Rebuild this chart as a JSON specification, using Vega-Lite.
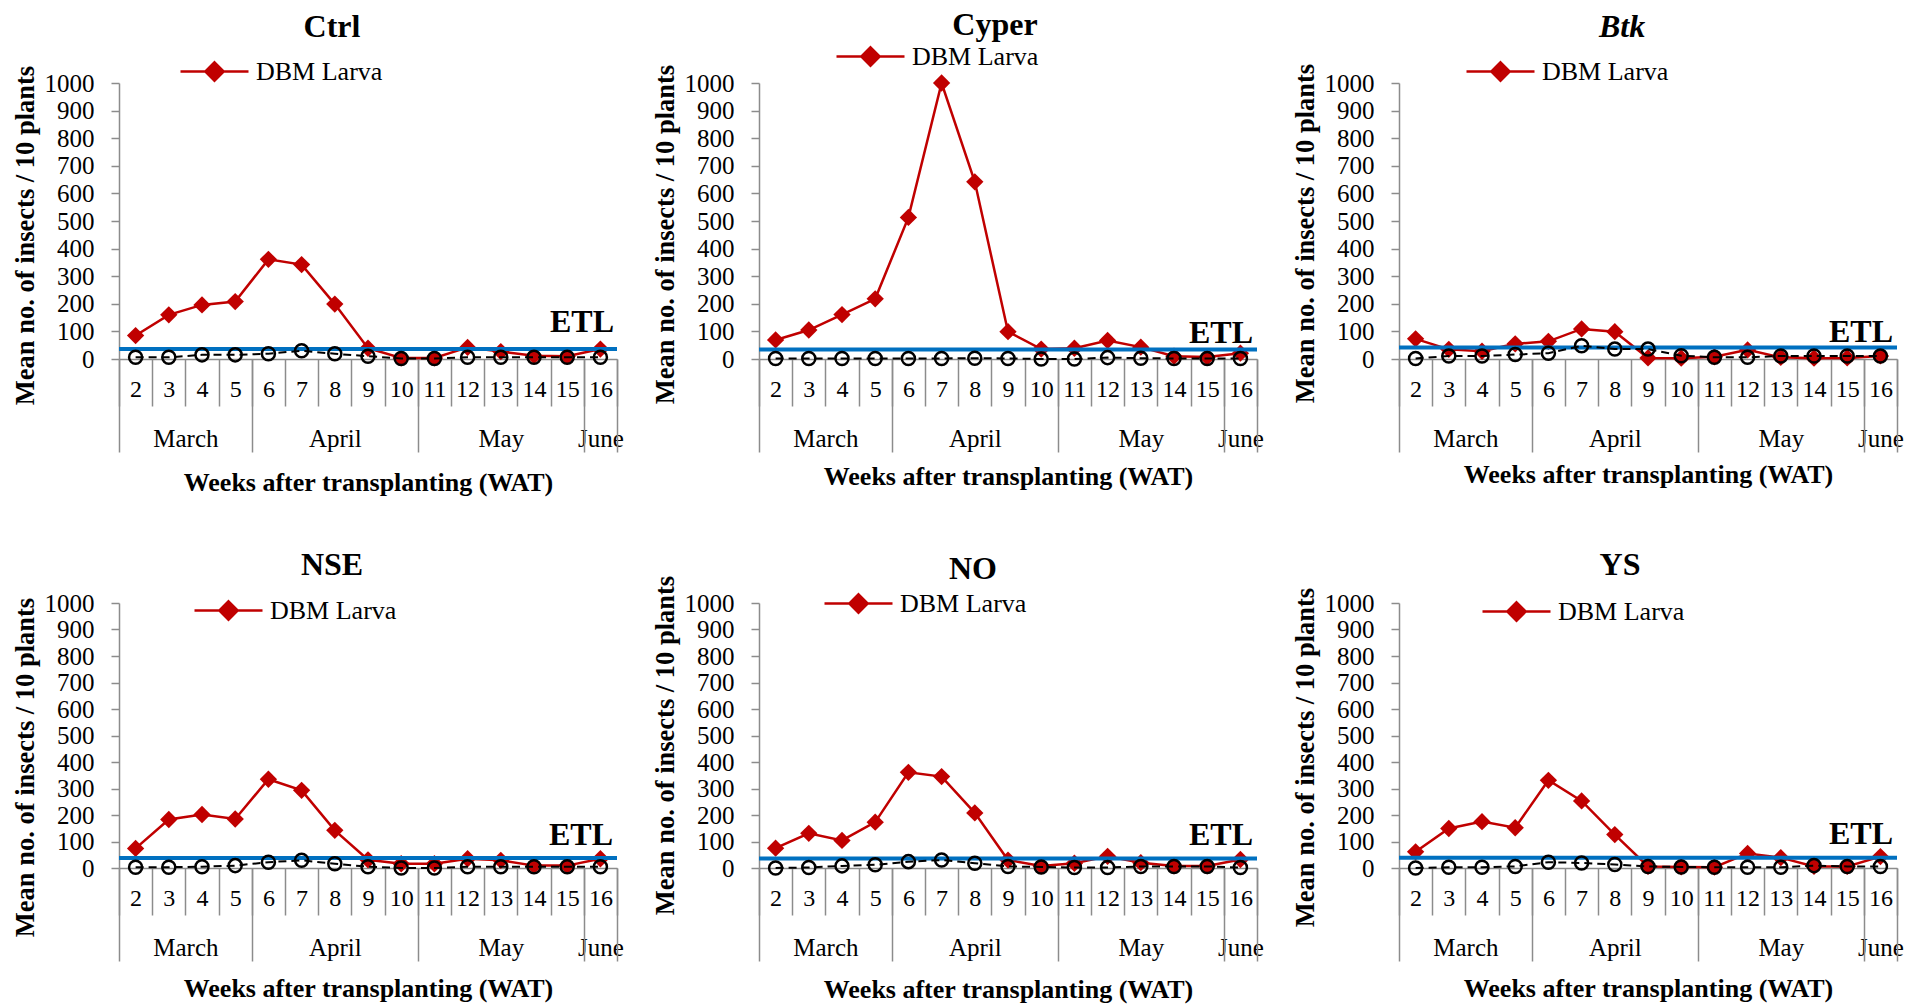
{
"$schema": "https://vega.github.io/schema/vega-lite/v6.json",
"background": "white",
"padding": {"left": 11, "top": 9, "right": 2, "bottom": 2},
"datasets": {
"d": [
{"t":"Ctrl","wk":2,"dbm":85,"ne":6},{"t":"Ctrl","wk":3,"dbm":160,"ne":6},{"t":"Ctrl","wk":4,"dbm":196,"ne":15},{"t":"Ctrl","wk":5,"dbm":208,"ne":15},{"t":"Ctrl","wk":6,"dbm":361,"ne":19},{"t":"Ctrl","wk":7,"dbm":342,"ne":30},{"t":"Ctrl","wk":8,"dbm":199,"ne":19},{"t":"Ctrl","wk":9,"dbm":39,"ne":10},{"t":"Ctrl","wk":10,"dbm":4,"ne":2},{"t":"Ctrl","wk":11,"dbm":4,"ne":2},{"t":"Ctrl","wk":12,"dbm":42,"ne":6},{"t":"Ctrl","wk":13,"dbm":27,"ne":6},{"t":"Ctrl","wk":14,"dbm":12,"ne":6},{"t":"Ctrl","wk":15,"dbm":10,"ne":6},{"t":"Ctrl","wk":16,"dbm":36,"ne":6},
{"t":"Cyper","wk":2,"dbm":69,"ne":2},{"t":"Cyper","wk":3,"dbm":105,"ne":2},{"t":"Cyper","wk":4,"dbm":161,"ne":2},{"t":"Cyper","wk":5,"dbm":218,"ne":2},{"t":"Cyper","wk":6,"dbm":513,"ne":2},{"t":"Cyper","wk":7,"dbm":1000,"ne":2},{"t":"Cyper","wk":8,"dbm":642,"ne":3},{"t":"Cyper","wk":9,"dbm":99,"ne":2},{"t":"Cyper","wk":10,"dbm":36,"ne":0},{"t":"Cyper","wk":11,"dbm":39,"ne":0},{"t":"Cyper","wk":12,"dbm":67,"ne":5},{"t":"Cyper","wk":13,"dbm":43,"ne":3},{"t":"Cyper","wk":14,"dbm":10,"ne":2},{"t":"Cyper","wk":15,"dbm":7,"ne":2},{"t":"Cyper","wk":16,"dbm":21,"ne":2},
{"t":"Btk","wk":2,"dbm":73,"ne":2},{"t":"Btk","wk":3,"dbm":35,"ne":11},{"t":"Btk","wk":4,"dbm":28,"ne":11},{"t":"Btk","wk":5,"dbm":55,"ne":16},{"t":"Btk","wk":6,"dbm":64,"ne":21},{"t":"Btk","wk":7,"dbm":109,"ne":48},{"t":"Btk","wk":8,"dbm":99,"ne":36},{"t":"Btk","wk":9,"dbm":4,"ne":36},{"t":"Btk","wk":10,"dbm":3,"ne":12},{"t":"Btk","wk":11,"dbm":8,"ne":6},{"t":"Btk","wk":12,"dbm":33,"ne":6},{"t":"Btk","wk":13,"dbm":6,"ne":11},{"t":"Btk","wk":14,"dbm":3,"ne":11},{"t":"Btk","wk":15,"dbm":4,"ne":11},{"t":"Btk","wk":16,"dbm":11,"ne":11},
{"t":"NSE","wk":2,"dbm":74,"ne":3},{"t":"NSE","wk":3,"dbm":183,"ne":3},{"t":"NSE","wk":4,"dbm":202,"ne":5},{"t":"NSE","wk":5,"dbm":185,"ne":9},{"t":"NSE","wk":6,"dbm":335,"ne":22},{"t":"NSE","wk":7,"dbm":293,"ne":29},{"t":"NSE","wk":8,"dbm":142,"ne":16},{"t":"NSE","wk":9,"dbm":31,"ne":5},{"t":"NSE","wk":10,"dbm":16,"ne":0},{"t":"NSE","wk":11,"dbm":16,"ne":0},{"t":"NSE","wk":12,"dbm":35,"ne":5},{"t":"NSE","wk":13,"dbm":29,"ne":5},{"t":"NSE","wk":14,"dbm":9,"ne":5},{"t":"NSE","wk":15,"dbm":9,"ne":5},{"t":"NSE","wk":16,"dbm":35,"ne":5},
{"t":"NO","wk":2,"dbm":75,"ne":0},{"t":"NO","wk":3,"dbm":131,"ne":2},{"t":"NO","wk":4,"dbm":104,"ne":8},{"t":"NO","wk":5,"dbm":173,"ne":12},{"t":"NO","wk":6,"dbm":361,"ne":24},{"t":"NO","wk":7,"dbm":345,"ne":30},{"t":"NO","wk":8,"dbm":208,"ne":18},{"t":"NO","wk":9,"dbm":30,"ne":6},{"t":"NO","wk":10,"dbm":8,"ne":4},{"t":"NO","wk":11,"dbm":18,"ne":2},{"t":"NO","wk":12,"dbm":44,"ne":2},{"t":"NO","wk":13,"dbm":20,"ne":6},{"t":"NO","wk":14,"dbm":8,"ne":6},{"t":"NO","wk":15,"dbm":8,"ne":6},{"t":"NO","wk":16,"dbm":32,"ne":2},
{"t":"YS","wk":2,"dbm":61,"ne":0},{"t":"YS","wk":3,"dbm":149,"ne":3},{"t":"YS","wk":4,"dbm":175,"ne":3},{"t":"YS","wk":5,"dbm":152,"ne":6},{"t":"YS","wk":6,"dbm":331,"ne":22},{"t":"YS","wk":7,"dbm":253,"ne":19},{"t":"YS","wk":8,"dbm":126,"ne":13},{"t":"YS","wk":9,"dbm":6,"ne":6},{"t":"YS","wk":10,"dbm":4,"ne":4},{"t":"YS","wk":11,"dbm":3,"ne":3},{"t":"YS","wk":12,"dbm":55,"ne":3},{"t":"YS","wk":13,"dbm":39,"ne":3},{"t":"YS","wk":14,"dbm":6,"ne":9},{"t":"YS","wk":15,"dbm":6,"ne":6},{"t":"YS","wk":16,"dbm":43,"ne":6}
],
"etl": [
{"t":"Ctrl","etl":36},{"t":"Cyper","etl":34},{"t":"Btk","etl":42},{"t":"NSE","etl":38},{"t":"NO","etl":36},{"t":"YS","etl":39}
]
},
"columns": 3,
"spacing": {"row": 244, "column": 142},
"bounds": "flush",
"resolve": {"scale": {"color": "independent"}},
"concat": [
{
"width": 498, "height": 276,
"title": {"text": "Ctrl", "dx": -36, "offset": -8},
"data": {"name": "d"},
"transform": [{"filter": "datum.t == 'Ctrl'"}],
"resolve": {"axis": {"x": "independent"}},
"layer": [
{"mark": {"type": "line", "color": "#C00000", "strokeWidth": 2.5},
 "encoding": {
  "x": {"field": "wk", "type": "quantitative", "scale": {"domain": [1.5, 16.5], "nice": false, "zero": false},
        "axis": {"orient": "bottom", "values": [2,3,4,5,6,7,8,9,10,11,12,13,14,15,16], "ticks": false, "tickSize": 0, "domain": false, "labelPadding": 18, "labelFontSize": 24, "labelFlush": false, "labelOverlap": false, "labelBound": false, "title": null, "format": "d"}},
  "y": {"field": "dbm", "type": "quantitative", "scale": {"domain": [0, 1000], "nice": false}, "title": "Mean no. of insects / 10 plants", "axis": {"titleY": 152}}}},
{"mark": {"type": "point", "shape": "diamond", "filled": true, "size": 300, "opacity": 1},
 "encoding": {
  "x": {"field": "wk", "type": "quantitative", "axis": {"orient": "bottom", "values": [1.5,2.5,3.5,4.5,5.5,6.5,7.5,8.5,9.5,10.5,11.5,12.5,13.5,14.5,15.5,16.5], "labels": false, "tickSize": 47, "domain": true, "title": null}},
  "y": {"field": "dbm", "type": "quantitative", "title": "Mean no. of insects / 10 plants"},
  "color": {"datum": "DBM Larva", "type": "nominal", "scale": {"range": ["#C00000"]}, "legend": {"title": null, "legendX": 60, "legendY": -47, "encode": {"symbols": {"update": {"stroke": {"value": "#C00000"}, "strokeWidth": {"value": 2.5}, "fill": {"value": "#C00000"}}}}}}}},
{"data": {"name": "etl"}, "transform": [{"filter": "datum.t == 'Ctrl'"}],
 "mark": {"type": "rule", "color": "#0070C0", "strokeWidth": 4},
 "encoding": {"y": {"field": "etl", "type": "quantitative", "title": "Mean no. of insects / 10 plants"}}},
{"mark": {"type": "line", "color": "black", "strokeWidth": 2, "strokeDash": [8, 5]},
 "encoding": {
  "x": {"field": "wk", "type": "quantitative", "axis": {"orient": "bottom", "values": [3.5, 8, 13, 16], "labelExpr": "datum.value == 3.5 ? 'March' : datum.value == 8 ? 'April' : datum.value == 13 ? 'May' : 'June'", "ticks": false, "tickSize": 0, "domain": false, "labelPadding": 67, "labelFontSize": 25, "labelFlush": false, "labelOverlap": false, "labelBound": false, "title": null}},
  "y": {"field": "ne", "type": "quantitative", "title": "Mean no. of insects / 10 plants"}}},
{"mark": {"type": "point", "shape": "circle", "filled": false, "color": "black", "strokeWidth": 2.5, "size": 170, "opacity": 1},
 "encoding": {
  "x": {"field": "wk", "type": "quantitative", "axis": {"orient": "bottom", "values": [1.5, 5.5, 10.5, 15.5, 16.5], "labels": false, "tickSize": 93, "domain": false, "title": "Weeks after transplanting (WAT)", "titlePadding": 17}},
  "y": {"field": "ne", "type": "quantitative", "title": "Mean no. of insects / 10 plants"}}},
{"data": {"name": "etl"}, "transform": [{"filter": "datum.t == 'Ctrl'"}],
 "mark": {"type": "text", "text": "ETL", "font": "Liberation Serif", "fontWeight": "bold", "fontSize": 32, "align": "right", "baseline": "alphabetic", "dy": -17, "dx": -3},
 "encoding": {"x": {"datum": 16.5, "type": "quantitative", "axis": null}, "y": {"field": "etl", "type": "quantitative", "title": "Mean no. of insects / 10 plants"}}}
]
},
{
"width": 498, "height": 276,
"title": {"text": "Cyper", "dx": -13, "offset": -21},
"data": {"name": "d"},
"transform": [{"filter": "datum.t == 'Cyper'"}],
"resolve": {"axis": {"x": "independent"}},
"layer": [
{"mark": {"type": "line", "color": "#C00000", "strokeWidth": 2.5},
 "encoding": {
  "x": {"field": "wk", "type": "quantitative", "scale": {"domain": [1.5, 16.5], "nice": false, "zero": false},
        "axis": {"orient": "bottom", "values": [2,3,4,5,6,7,8,9,10,11,12,13,14,15,16], "ticks": false, "tickSize": 0, "domain": false, "labelPadding": 18, "labelFontSize": 24, "labelFlush": false, "labelOverlap": false, "labelBound": false, "title": null, "format": "d"}},
  "y": {"field": "dbm", "type": "quantitative", "scale": {"domain": [0, 1000], "nice": false}, "title": "Mean no. of insects / 10 plants", "axis": {"titleY": 151}}}},
{"mark": {"type": "point", "shape": "diamond", "filled": true, "size": 300, "opacity": 1},
 "encoding": {
  "x": {"field": "wk", "type": "quantitative", "axis": {"orient": "bottom", "values": [1.5,2.5,3.5,4.5,5.5,6.5,7.5,8.5,9.5,10.5,11.5,12.5,13.5,14.5,15.5,16.5], "labels": false, "tickSize": 47, "domain": true, "title": null}},
  "y": {"field": "dbm", "type": "quantitative", "title": "Mean no. of insects / 10 plants"},
  "color": {"datum": "DBM Larva", "type": "nominal", "scale": {"range": ["#C00000"]}, "legend": {"title": null, "legendX": 76, "legendY": -62, "encode": {"symbols": {"update": {"stroke": {"value": "#C00000"}, "strokeWidth": {"value": 2.5}, "fill": {"value": "#C00000"}}}}}}}},
{"data": {"name": "etl"}, "transform": [{"filter": "datum.t == 'Cyper'"}],
 "mark": {"type": "rule", "color": "#0070C0", "strokeWidth": 4},
 "encoding": {"y": {"field": "etl", "type": "quantitative", "title": "Mean no. of insects / 10 plants"}}},
{"mark": {"type": "line", "color": "black", "strokeWidth": 2, "strokeDash": [8, 5]},
 "encoding": {
  "x": {"field": "wk", "type": "quantitative", "axis": {"orient": "bottom", "values": [3.5, 8, 13, 16], "labelExpr": "datum.value == 3.5 ? 'March' : datum.value == 8 ? 'April' : datum.value == 13 ? 'May' : 'June'", "ticks": false, "tickSize": 0, "domain": false, "labelPadding": 67, "labelFontSize": 25, "labelFlush": false, "labelOverlap": false, "labelBound": false, "title": null}},
  "y": {"field": "ne", "type": "quantitative", "title": "Mean no. of insects / 10 plants"}}},
{"mark": {"type": "point", "shape": "circle", "filled": false, "color": "black", "strokeWidth": 2.5, "size": 170, "opacity": 1},
 "encoding": {
  "x": {"field": "wk", "type": "quantitative", "axis": {"orient": "bottom", "values": [1.5, 5.5, 10.5, 15.5, 16.5], "labels": false, "tickSize": 93, "domain": false, "title": "Weeks after transplanting (WAT)", "titlePadding": 11}},
  "y": {"field": "ne", "type": "quantitative", "title": "Mean no. of insects / 10 plants"}}},
{"data": {"name": "etl"}, "transform": [{"filter": "datum.t == 'Cyper'"}],
 "mark": {"type": "text", "text": "ETL", "font": "Liberation Serif", "fontWeight": "bold", "fontSize": 32, "align": "right", "baseline": "alphabetic", "dy": -7, "dx": -4},
 "encoding": {"x": {"datum": 16.5, "type": "quantitative", "axis": null}, "y": {"field": "etl", "type": "quantitative", "title": "Mean no. of insects / 10 plants"}}}
]
},
{
"width": 498, "height": 276,
"title": {"text": "Btk", "dx": -26, "offset": -8, "fontStyle": "italic"},
"data": {"name": "d"},
"transform": [{"filter": "datum.t == 'Btk'"}],
"resolve": {"axis": {"x": "independent"}},
"layer": [
{"mark": {"type": "line", "color": "#C00000", "strokeWidth": 2.5},
 "encoding": {
  "x": {"field": "wk", "type": "quantitative", "scale": {"domain": [1.5, 16.5], "nice": false, "zero": false},
        "axis": {"orient": "bottom", "values": [2,3,4,5,6,7,8,9,10,11,12,13,14,15,16], "ticks": false, "tickSize": 0, "domain": false, "labelPadding": 18, "labelFontSize": 24, "labelFlush": false, "labelOverlap": false, "labelBound": false, "title": null, "format": "d"}},
  "y": {"field": "dbm", "type": "quantitative", "scale": {"domain": [0, 1000], "nice": false}, "title": "Mean no. of insects / 10 plants", "axis": {"titleY": 150}}}},
{"mark": {"type": "point", "shape": "diamond", "filled": true, "size": 300, "opacity": 1},
 "encoding": {
  "x": {"field": "wk", "type": "quantitative", "axis": {"orient": "bottom", "values": [1.5,2.5,3.5,4.5,5.5,6.5,7.5,8.5,9.5,10.5,11.5,12.5,13.5,14.5,15.5,16.5], "labels": false, "tickSize": 47, "domain": true, "title": null}},
  "y": {"field": "dbm", "type": "quantitative", "title": "Mean no. of insects / 10 plants"},
  "color": {"datum": "DBM Larva", "type": "nominal", "scale": {"range": ["#C00000"]}, "legend": {"title": null, "legendX": 66, "legendY": -47, "encode": {"symbols": {"update": {"stroke": {"value": "#C00000"}, "strokeWidth": {"value": 2.5}, "fill": {"value": "#C00000"}}}}}}}},
{"data": {"name": "etl"}, "transform": [{"filter": "datum.t == 'Btk'"}],
 "mark": {"type": "rule", "color": "#0070C0", "strokeWidth": 4},
 "encoding": {"y": {"field": "etl", "type": "quantitative", "title": "Mean no. of insects / 10 plants"}}},
{"mark": {"type": "line", "color": "black", "strokeWidth": 2, "strokeDash": [8, 5]},
 "encoding": {
  "x": {"field": "wk", "type": "quantitative", "axis": {"orient": "bottom", "values": [3.5, 8, 13, 16], "labelExpr": "datum.value == 3.5 ? 'March' : datum.value == 8 ? 'April' : datum.value == 13 ? 'May' : 'June'", "ticks": false, "tickSize": 0, "domain": false, "labelPadding": 67, "labelFontSize": 25, "labelFlush": false, "labelOverlap": false, "labelBound": false, "title": null}},
  "y": {"field": "ne", "type": "quantitative", "title": "Mean no. of insects / 10 plants"}}},
{"mark": {"type": "point", "shape": "circle", "filled": false, "color": "black", "strokeWidth": 2.5, "size": 170, "opacity": 1},
 "encoding": {
  "x": {"field": "wk", "type": "quantitative", "axis": {"orient": "bottom", "values": [1.5, 5.5, 10.5, 15.5, 16.5], "labels": false, "tickSize": 93, "domain": false, "title": "Weeks after transplanting (WAT)", "titlePadding": 9}},
  "y": {"field": "ne", "type": "quantitative", "title": "Mean no. of insects / 10 plants"}}},
{"data": {"name": "etl"}, "transform": [{"filter": "datum.t == 'Btk'"}],
 "mark": {"type": "text", "text": "ETL", "font": "Liberation Serif", "fontWeight": "bold", "fontSize": 32, "align": "right", "baseline": "alphabetic", "dy": -5, "dx": -4},
 "encoding": {"x": {"datum": 16.5, "type": "quantitative", "axis": null}, "y": {"field": "etl", "type": "quantitative", "title": "Mean no. of insects / 10 plants"}}}
]
},
{
"width": 498, "height": 265,
"title": {"text": "NSE", "dx": -36, "offset": -7},
"data": {"name": "d"},
"transform": [{"filter": "datum.t == 'NSE'"}],
"resolve": {"axis": {"x": "independent"}},
"layer": [
{"mark": {"type": "line", "color": "#C00000", "strokeWidth": 2.5},
 "encoding": {
  "x": {"field": "wk", "type": "quantitative", "scale": {"domain": [1.5, 16.5], "nice": false, "zero": false},
        "axis": {"orient": "bottom", "values": [2,3,4,5,6,7,8,9,10,11,12,13,14,15,16], "ticks": false, "tickSize": 0, "domain": false, "labelPadding": 18, "labelFontSize": 24, "labelFlush": false, "labelOverlap": false, "labelBound": false, "title": null, "format": "d"}},
  "y": {"field": "dbm", "type": "quantitative", "scale": {"domain": [0, 1000], "nice": false}, "title": "Mean no. of insects / 10 plants", "axis": {"titleY": 164}}}},
{"mark": {"type": "point", "shape": "diamond", "filled": true, "size": 300, "opacity": 1},
 "encoding": {
  "x": {"field": "wk", "type": "quantitative", "axis": {"orient": "bottom", "values": [1.5,2.5,3.5,4.5,5.5,6.5,7.5,8.5,9.5,10.5,11.5,12.5,13.5,14.5,15.5,16.5], "labels": false, "tickSize": 47, "domain": true, "title": null}},
  "y": {"field": "dbm", "type": "quantitative", "title": "Mean no. of insects / 10 plants"},
  "color": {"datum": "DBM Larva", "type": "nominal", "scale": {"range": ["#C00000"]}, "legend": {"title": null, "legendX": 74, "legendY": -28, "encode": {"symbols": {"update": {"stroke": {"value": "#C00000"}, "strokeWidth": {"value": 2.5}, "fill": {"value": "#C00000"}}}}}}}},
{"data": {"name": "etl"}, "transform": [{"filter": "datum.t == 'NSE'"}],
 "mark": {"type": "rule", "color": "#0070C0", "strokeWidth": 4},
 "encoding": {"y": {"field": "etl", "type": "quantitative", "title": "Mean no. of insects / 10 plants"}}},
{"mark": {"type": "line", "color": "black", "strokeWidth": 2, "strokeDash": [8, 5]},
 "encoding": {
  "x": {"field": "wk", "type": "quantitative", "axis": {"orient": "bottom", "values": [3.5, 8, 13, 16], "labelExpr": "datum.value == 3.5 ? 'March' : datum.value == 8 ? 'April' : datum.value == 13 ? 'May' : 'June'", "ticks": false, "tickSize": 0, "domain": false, "labelPadding": 67, "labelFontSize": 25, "labelFlush": false, "labelOverlap": false, "labelBound": false, "title": null}},
  "y": {"field": "ne", "type": "quantitative", "title": "Mean no. of insects / 10 plants"}}},
{"mark": {"type": "point", "shape": "circle", "filled": false, "color": "black", "strokeWidth": 2.5, "size": 170, "opacity": 1},
 "encoding": {
  "x": {"field": "wk", "type": "quantitative", "axis": {"orient": "bottom", "values": [1.5, 5.5, 10.5, 15.5, 16.5], "labels": false, "tickSize": 93, "domain": false, "title": "Weeks after transplanting (WAT)", "titlePadding": 14}},
  "y": {"field": "ne", "type": "quantitative", "title": "Mean no. of insects / 10 plants"}}},
{"data": {"name": "etl"}, "transform": [{"filter": "datum.t == 'NSE'"}],
 "mark": {"type": "text", "text": "ETL", "font": "Liberation Serif", "fontWeight": "bold", "fontSize": 32, "align": "right", "baseline": "alphabetic", "dy": -13, "dx": -4},
 "encoding": {"x": {"datum": 16.5, "type": "quantitative", "axis": null}, "y": {"field": "etl", "type": "quantitative", "title": "Mean no. of insects / 10 plants"}}}
]
},
{
"width": 498, "height": 265,
"title": {"text": "NO", "dx": -35, "offset": -18},
"data": {"name": "d"},
"transform": [{"filter": "datum.t == 'NO'"}],
"resolve": {"axis": {"x": "independent"}},
"layer": [
{"mark": {"type": "line", "color": "#C00000", "strokeWidth": 2.5},
 "encoding": {
  "x": {"field": "wk", "type": "quantitative", "scale": {"domain": [1.5, 16.5], "nice": false, "zero": false},
        "axis": {"orient": "bottom", "values": [2,3,4,5,6,7,8,9,10,11,12,13,14,15,16], "ticks": false, "tickSize": 0, "domain": false, "labelPadding": 18, "labelFontSize": 24, "labelFlush": false, "labelOverlap": false, "labelBound": false, "title": null, "format": "d"}},
  "y": {"field": "dbm", "type": "quantitative", "scale": {"domain": [0, 1000], "nice": false}, "title": "Mean no. of insects / 10 plants", "axis": {"titleY": 142}}}},
{"mark": {"type": "point", "shape": "diamond", "filled": true, "size": 300, "opacity": 1},
 "encoding": {
  "x": {"field": "wk", "type": "quantitative", "axis": {"orient": "bottom", "values": [1.5,2.5,3.5,4.5,5.5,6.5,7.5,8.5,9.5,10.5,11.5,12.5,13.5,14.5,15.5,16.5], "labels": false, "tickSize": 47, "domain": true, "title": null}},
  "y": {"field": "dbm", "type": "quantitative", "title": "Mean no. of insects / 10 plants"},
  "color": {"datum": "DBM Larva", "type": "nominal", "scale": {"range": ["#C00000"]}, "legend": {"title": null, "legendX": 64, "legendY": -35, "encode": {"symbols": {"update": {"stroke": {"value": "#C00000"}, "strokeWidth": {"value": 2.5}, "fill": {"value": "#C00000"}}}}}}}},
{"data": {"name": "etl"}, "transform": [{"filter": "datum.t == 'NO'"}],
 "mark": {"type": "rule", "color": "#0070C0", "strokeWidth": 4},
 "encoding": {"y": {"field": "etl", "type": "quantitative", "title": "Mean no. of insects / 10 plants"}}},
{"mark": {"type": "line", "color": "black", "strokeWidth": 2, "strokeDash": [8, 5]},
 "encoding": {
  "x": {"field": "wk", "type": "quantitative", "axis": {"orient": "bottom", "values": [3.5, 8, 13, 16], "labelExpr": "datum.value == 3.5 ? 'March' : datum.value == 8 ? 'April' : datum.value == 13 ? 'May' : 'June'", "ticks": false, "tickSize": 0, "domain": false, "labelPadding": 67, "labelFontSize": 25, "labelFlush": false, "labelOverlap": false, "labelBound": false, "title": null}},
  "y": {"field": "ne", "type": "quantitative", "title": "Mean no. of insects / 10 plants"}}},
{"mark": {"type": "point", "shape": "circle", "filled": false, "color": "black", "strokeWidth": 2.5, "size": 170, "opacity": 1},
 "encoding": {
  "x": {"field": "wk", "type": "quantitative", "axis": {"orient": "bottom", "values": [1.5, 5.5, 10.5, 15.5, 16.5], "labels": false, "tickSize": 93, "domain": false, "title": "Weeks after transplanting (WAT)", "titlePadding": 15}},
  "y": {"field": "ne", "type": "quantitative", "title": "Mean no. of insects / 10 plants"}}},
{"data": {"name": "etl"}, "transform": [{"filter": "datum.t == 'NO'"}],
 "mark": {"type": "text", "text": "ETL", "font": "Liberation Serif", "fontWeight": "bold", "fontSize": 32, "align": "right", "baseline": "alphabetic", "dy": -13, "dx": -4},
 "encoding": {"x": {"datum": 16.5, "type": "quantitative", "axis": null}, "y": {"field": "etl", "type": "quantitative", "title": "Mean no. of insects / 10 plants"}}}
]
},
{
"width": 498, "height": 265,
"title": {"text": "YS", "dx": -28, "offset": -6},
"data": {"name": "d"},
"transform": [{"filter": "datum.t == 'YS'"}],
"resolve": {"axis": {"x": "independent"}},
"layer": [
{"mark": {"type": "line", "color": "#C00000", "strokeWidth": 2.5},
 "encoding": {
  "x": {"field": "wk", "type": "quantitative", "scale": {"domain": [1.5, 16.5], "nice": false, "zero": false},
        "axis": {"orient": "bottom", "values": [2,3,4,5,6,7,8,9,10,11,12,13,14,15,16], "ticks": false, "tickSize": 0, "domain": false, "labelPadding": 18, "labelFontSize": 24, "labelFlush": false, "labelOverlap": false, "labelBound": false, "title": null, "format": "d"}},
  "y": {"field": "dbm", "type": "quantitative", "scale": {"domain": [0, 1000], "nice": false}, "title": "Mean no. of insects / 10 plants", "axis": {"titleY": 154}}}},
{"mark": {"type": "point", "shape": "diamond", "filled": true, "size": 300, "opacity": 1},
 "encoding": {
  "x": {"field": "wk", "type": "quantitative", "axis": {"orient": "bottom", "values": [1.5,2.5,3.5,4.5,5.5,6.5,7.5,8.5,9.5,10.5,11.5,12.5,13.5,14.5,15.5,16.5], "labels": false, "tickSize": 47, "domain": true, "title": null}},
  "y": {"field": "dbm", "type": "quantitative", "title": "Mean no. of insects / 10 plants"},
  "color": {"datum": "DBM Larva", "type": "nominal", "scale": {"range": ["#C00000"]}, "legend": {"title": null, "legendX": 82, "legendY": -27, "encode": {"symbols": {"update": {"stroke": {"value": "#C00000"}, "strokeWidth": {"value": 2.5}, "fill": {"value": "#C00000"}}}}}}}},
{"data": {"name": "etl"}, "transform": [{"filter": "datum.t == 'YS'"}],
 "mark": {"type": "rule", "color": "#0070C0", "strokeWidth": 4},
 "encoding": {"y": {"field": "etl", "type": "quantitative", "title": "Mean no. of insects / 10 plants"}}},
{"mark": {"type": "line", "color": "black", "strokeWidth": 2, "strokeDash": [8, 5]},
 "encoding": {
  "x": {"field": "wk", "type": "quantitative", "axis": {"orient": "bottom", "values": [3.5, 8, 13, 16], "labelExpr": "datum.value == 3.5 ? 'March' : datum.value == 8 ? 'April' : datum.value == 13 ? 'May' : 'June'", "ticks": false, "tickSize": 0, "domain": false, "labelPadding": 67, "labelFontSize": 25, "labelFlush": false, "labelOverlap": false, "labelBound": false, "title": null}},
  "y": {"field": "ne", "type": "quantitative", "title": "Mean no. of insects / 10 plants"}}},
{"mark": {"type": "point", "shape": "circle", "filled": false, "color": "black", "strokeWidth": 2.5, "size": 170, "opacity": 1},
 "encoding": {
  "x": {"field": "wk", "type": "quantitative", "axis": {"orient": "bottom", "values": [1.5, 5.5, 10.5, 15.5, 16.5], "labels": false, "tickSize": 93, "domain": false, "title": "Weeks after transplanting (WAT)", "titlePadding": 14}},
  "y": {"field": "ne", "type": "quantitative", "title": "Mean no. of insects / 10 plants"}}},
{"data": {"name": "etl"}, "transform": [{"filter": "datum.t == 'YS'"}],
 "mark": {"type": "text", "text": "ETL", "font": "Liberation Serif", "fontWeight": "bold", "fontSize": 32, "align": "right", "baseline": "alphabetic", "dy": -14, "dx": -4},
 "encoding": {"x": {"datum": 16.5, "type": "quantitative", "axis": null}, "y": {"field": "etl", "type": "quantitative", "title": "Mean no. of insects / 10 plants"}}}
]
}
],
"config": {
 "view": {"stroke": null},
 "font": "Liberation Serif",
 "axis": {"labelFont": "Liberation Serif", "titleFont": "Liberation Serif", "labelColor": "black", "titleColor": "black", "domainColor": "#8c8c8c", "tickColor": "#8c8c8c", "grid": false, "domainWidth": 1.5, "tickWidth": 1.5, "titleFontWeight": "bold", "titleFontSize": 26},
 "axisY": {"tickCount": 10, "format": "d", "tickSize": 8, "labelPadding": 17, "labelFontSize": 25, "titleFontSize": 26.5, "titlePadding": 5},
 "title": {"font": "Liberation Serif", "fontSize": 32, "fontWeight": "bold", "color": "black", "anchor": "middle", "frame": "group", "baseline": "alphabetic"},
 "legend": {"orient": "none", "symbolType": "M-1,0L1,0M0,-0.27L0.27,0L0,0.27L-0.27,0Z", "symbolSize": 4624, "labelFont": "Liberation Serif", "labelFontSize": 26, "labelColor": "black", "labelOffset": 6, "symbolStrokeWidth": 2.5, "symbolStrokeColor": "#C00000", "symbolFillColor": "#C00000"}
}
}
